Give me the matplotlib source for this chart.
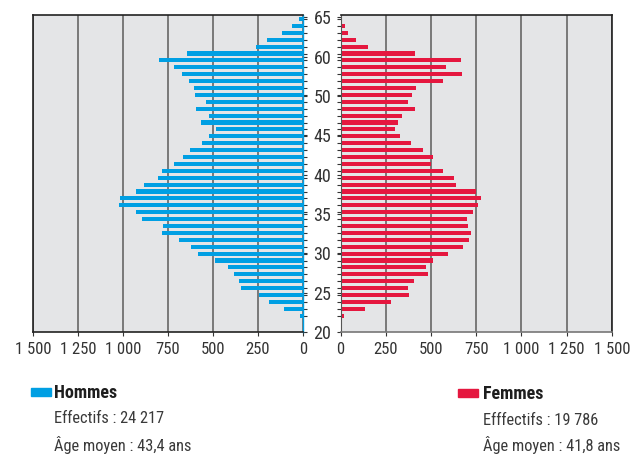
import numpy as np
import matplotlib.pyplot as plt
from matplotlib.patches import Rectangle

plt.rcParams['font.family'] = ['Roboto Condensed', 'DejaVu Sans']

# ages of each bar (one bar per year)
ages = list(range(22, 66))
hommes = [17, 107, 187, 243, 343, 356, 381, 418, 489, 581,
          620, 689, 782, 776, 893, 928, 1022, 1015, 930, 885,
          807, 783, 717, 665, 628, 561, 520, 485, 567, 522,
          594, 541, 598, 604, 633, 672, 717, 802, 644, 261,
          200, 117, 59, 22]
femmes = [18, 134, 281, 380, 371, 404, 482, 472, 509, 592,
          679, 708, 719, 704, 697, 730, 761, 776, 749, 636,
          627, 565, 498, 511, 456, 388, 331, 299, 316, 342,
          410, 375, 397, 415, 566, 671, 583, 666, 412, 152,
          84, 41, 23, 5]
xticks = [0, 250, 500, 750, 1000, 1250, 1500]
# the original axis labels (55 is missing in the source chart)
ylabels = ['20', '25', '30', '35', '40', '45', '50', '60', '65']
ylabel_pos = [19.68, 25.36, 31.04, 36.74, 42.45, 48.14, 53.84, 59.54, 65.25]

blue = '#009fe3'
red = '#e5173f'
bg = '#e4e5e7'

W, H = 641, 454
fig = plt.figure(figsize=(W/100, H/100), dpi=100)

def px(x, y):
    return x/W, 1 - y/H

axl = fig.add_axes([33/W, 1-332/H, 270/W, 316.7/H])
axr = fig.add_axes([340.5/W, 1-332/H, 271.5/W, 316.7/H])

fmt = lambda v: f"{v:,}".replace(',', ' ')

for ax in (axl, axr):
    ax.set_facecolor(bg)
    ax.set_axisbelow(True)
    ax.grid(axis='x', color='#666666', lw=1.2)
    ax.set_ylim(19.64, 65.54)
    ax.set_xticks(xticks)
    ax.set_xticklabels([fmt(v) for v in xticks], fontsize=12, color='#333333')
    ax.tick_params(axis='x', direction='out', length=3, width=0.8, pad=4, color='#333333')
    ax.set_yticks(ylabel_pos)
    ax.set_yticks(ages, minor=True)

axl.barh(ages, hommes, height=0.6, color=blue)
axl.set_xlim(1500, 0)
axr.barh(ages, femmes, height=0.6, color=red)
axr.set_xlim(0, 1500)

# y labels in the gap between the two panels
axl.yaxis.tick_right()
axl.set_yticklabels(ylabels, fontsize=13, color='#333333')
axl.tick_params(axis='y', which='both', direction='out', length=3, width=0.8,
                color='#333333', pad=11)
for t in axl.get_yticklabels():
    t.set_ha('center')
axr.set_yticklabels([])
axr.tick_params(axis='y', which='both', direction='out', length=3, width=0.8,
                color='#333333', left=True)

for s in ['left', 'top', 'bottom']:
    axl.spines[s].set_color('#222222')
    axl.spines[s].set_linewidth(1.2)
axl.spines['right'].set_color(blue)
axl.spines['right'].set_linewidth(1)
for s in ['right', 'top']:
    axr.spines[s].set_color('#222222')
    axr.spines[s].set_linewidth(1.2)
axr.spines['bottom'].set_color('#777777')
axr.spines['bottom'].set_linewidth(1.2)
axr.spines['left'].set_color('#555555')
axr.spines['left'].set_linewidth(0.8)

# legend blocks
x0, y0 = px(31, 396)
fig.add_artist(Rectangle((x0, y0), 20/W, 8/H, color=blue, transform=fig.transFigure))
fig.text(*px(54, 392.5), 'Hommes', fontsize=13, fontweight='bold', color='#1e1e1e', va='center')
fig.text(*px(54, 418.5), 'Effectifs : 24 217', fontsize=11.8, color='#3a3a3a', va='center')
fig.text(*px(54, 444.5), 'Âge moyen : 43,4 ans', fontsize=11.8, color='#3a3a3a', va='center')

x0, y0 = px(458, 397)
fig.add_artist(Rectangle((x0, y0), 20/W, 8/H, color=red, transform=fig.transFigure))
fig.text(*px(483, 394), 'Femmes', fontsize=13, fontweight='bold', color='#1e1e1e', va='center')
fig.text(*px(483, 420.5), 'Efffectifs : 19 786', fontsize=11.8, color='#3a3a3a', va='center')
fig.text(*px(483, 445.5), 'Âge moyen : 41,8 ans', fontsize=11.8, color='#3a3a3a', va='center')

fig.savefig('out.png', dpi=100)
